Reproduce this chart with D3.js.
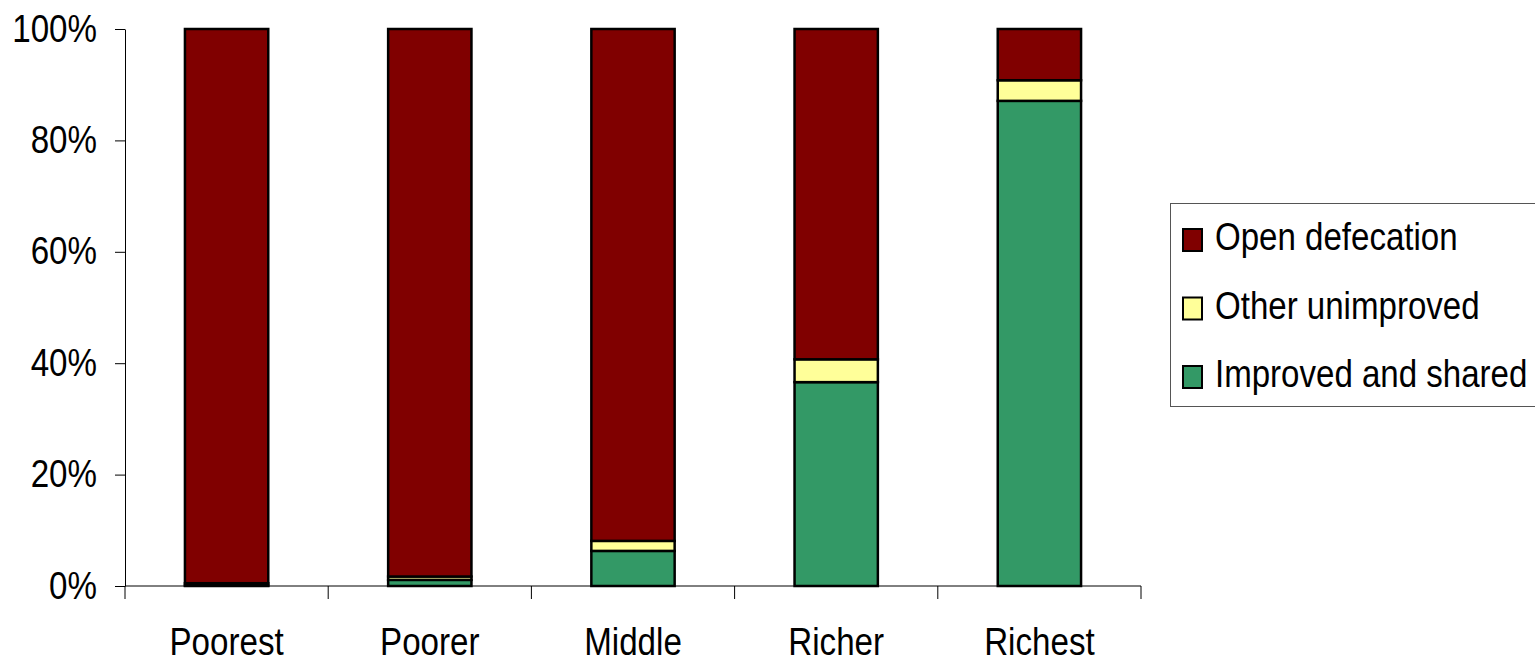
<!DOCTYPE html>
<html><head><meta charset="utf-8">
<script src="https://cdn.jsdelivr.net/npm/d3@7"></script>
<style>body{margin:0;background:#fff}svg{display:block}text{font-family:"Liberation Sans",Arial,sans-serif;fill:#000}</style>
</head><body>
<svg id="c" width="1535" height="664"></svg>
<script>
const categories = ["Poorest","Poorer","Middle","Richer","Richest"];
const improvedShared = [0.1, 1.1, 6.3, 36.6, 87.1];
const otherUnimproved = [0.4, 0.6, 1.8, 4.1, 3.7];
const openDefecation = categories.map((c,i)=>100 - improvedShared[i] - otherUnimproved[i]);
const seriesNames = ["Improved and shared","Other unimproved","Open defecation"];
const seriesColors = ["#339966","#FFFF99","#800000"];
const yTicks = [0,20,40,60,80,100];

const svg = d3.select("#c");
const SX = 0.85, FS = 39;
const x = d3.scaleBand().domain(categories).range([125,1141]).paddingInner(0.59).paddingOuter(0.295);
const y = d3.scaleLinear().domain([0,100]).range([586,29]);

const rows = categories.map((c,i)=>({cat:c, "Improved and shared":improvedShared[i], "Other unimproved":otherUnimproved[i], "Open defecation":openDefecation[i]}));
const stack = d3.stack().keys(seriesNames)(rows);

// bars
stack.forEach((layer,k)=>{
  svg.append("g").selectAll("rect").data(layer).join("rect")
    .attr("x", d=>x(d.data.cat))
    .attr("width", x.bandwidth())
    .attr("y", d=>y(d[1]))
    .attr("height", d=>Math.max(0, y(d[0]) - y(d[1])))
    .attr("fill", seriesColors[k])
    .attr("stroke", "#000").attr("stroke-width", 2.5);
});

// y axis
const ya = svg.append("g").attr("transform","translate(125,0)")
  .call(d3.axisLeft(y).tickValues(yTicks).tickFormat(d=>d+"%").tickSize(10).tickSizeOuter(0));
ya.select(".domain").attr("stroke","#000");
ya.selectAll(".tick line").attr("stroke","#000");
ya.selectAll(".tick text").attr("x",null).attr("dy",null).attr("y",0)
  .attr("font-family","Liberation Sans, Arial, sans-serif").attr("font-size",FS)
  .attr("text-anchor","end").attr("transform",`translate(-28,12) scale(${SX},1)`);

// x axis
const xa = svg.append("g");
xa.append("line").attr("x1",125).attr("x2",1141).attr("y1",586).attr("y2",586).attr("stroke","#000");
const bounds = categories.map(c=>x(c) - x.step()*x.paddingInner()/2).concat([1141]);
xa.selectAll("line.t").data(bounds).join("line").attr("class","t")
  .attr("x1",d=>d).attr("x2",d=>d).attr("y1",586).attr("y2",599).attr("stroke","#000");
xa.selectAll("g.lab").data(categories).join("g").attr("class","lab")
  .attr("transform",d=>`translate(${x(d)+x.bandwidth()/2},655)`)
  .append("text").attr("text-anchor","middle").attr("font-size",FS)
  .attr("transform",`scale(${SX},1)`).text(d=>d);

// legend
const lg = svg.append("g");
lg.append("rect").attr("x",1170.5).attr("y",203.5).attr("width",380).attr("height",203)
  .attr("fill","#fff").attr("stroke","#555").attr("stroke-width",1);
const legendOrder = [2,1,0];
legendOrder.forEach((k,i)=>{
  const by = 250 + i*68.5;
  lg.append("rect").attr("x",1183).attr("y",by-21).attr("width",19).attr("height",22)
    .attr("fill",seriesColors[k]).attr("stroke","#000").attr("stroke-width",2);
  lg.append("g").attr("transform",`translate(1215,${by})`)
    .append("text").attr("font-size",38).attr("transform",`scale(0.87,1)`).text(seriesNames[k]);
});
</script>
</body></html>
